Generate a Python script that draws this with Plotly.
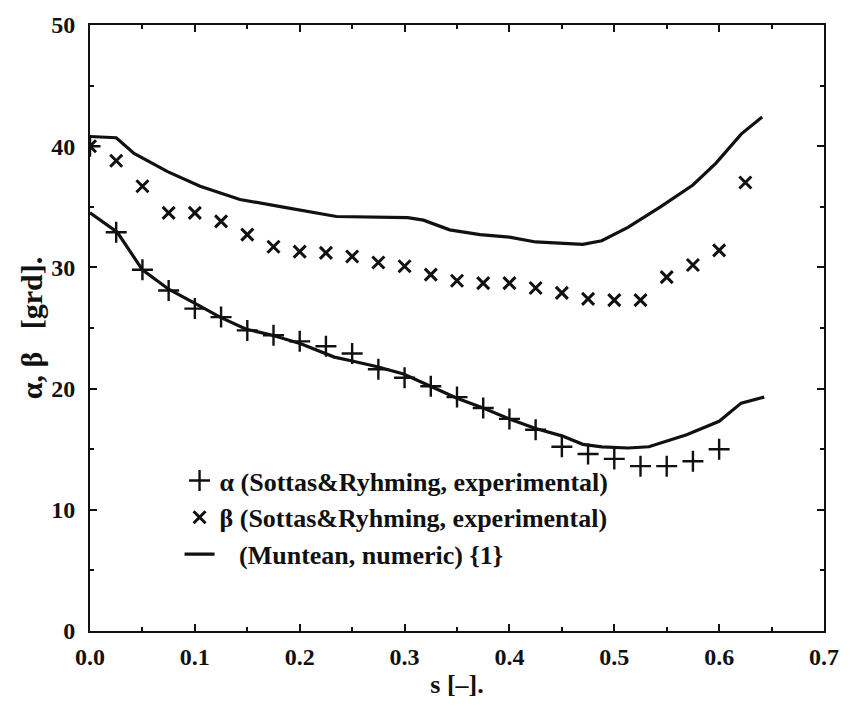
import plotly.graph_objects as go

# Measured flow angles along the blade passage (Sottas & Ryhming)
s_alpha = [0.0, 0.025, 0.05, 0.075, 0.1, 0.125, 0.15, 0.175, 0.2, 0.225, 0.25, 0.275,
           0.3, 0.325, 0.35, 0.375, 0.4, 0.425, 0.45, 0.475, 0.5, 0.525, 0.55, 0.575, 0.6]
alpha_exp = [40.0, 32.9, 29.8, 28.1, 26.6, 25.9, 24.8, 24.4, 23.9, 23.5, 22.9, 21.6,
             20.9, 20.2, 19.3, 18.4, 17.5, 16.6, 15.2, 14.6, 14.2, 13.6, 13.6, 14.0, 15.0]

s_beta = [0.0, 0.025, 0.05, 0.075, 0.1, 0.125, 0.15, 0.175, 0.2, 0.225, 0.25, 0.275, 0.3,
          0.325, 0.35, 0.375, 0.4, 0.425, 0.45, 0.475, 0.5, 0.525, 0.55, 0.575, 0.6, 0.625]
beta_exp = [40.0, 38.8, 36.7, 34.5, 34.5, 33.8, 32.7, 31.7, 31.3, 31.2, 30.9, 30.4, 30.1,
            29.4, 28.9, 28.7, 28.7, 28.3, 27.9, 27.4, 27.3, 27.3, 29.2, 30.2, 31.4, 37.0]

# Numerical solution (Muntean)
s_beta_num = [0.0, 0.025, 0.042, 0.074, 0.105, 0.143, 0.183, 0.235, 0.303, 0.318, 0.343,
              0.372, 0.400, 0.425, 0.470, 0.488, 0.513, 0.544, 0.575, 0.597, 0.621, 0.641]
beta_num = [40.8, 40.7, 39.4, 37.9, 36.7, 35.6, 35.0, 34.2, 34.1, 33.9, 33.1,
            32.7, 32.5, 32.1, 31.9, 32.2, 33.3, 35.0, 36.8, 38.6, 41.0, 42.4]

s_alpha_num = [0.0, 0.026, 0.050, 0.075, 0.105, 0.124, 0.149, 0.174, 0.201, 0.233, 0.249,
               0.274, 0.299, 0.325, 0.350, 0.375, 0.400, 0.425, 0.450, 0.470, 0.488,
               0.513, 0.533, 0.569, 0.600, 0.621, 0.643]
alpha_num = [34.5, 32.9, 29.8, 28.2, 26.8, 25.9, 24.9, 24.4, 23.7, 22.6, 22.3,
             21.8, 21.2, 20.2, 19.2, 18.4, 17.5, 16.7, 16.1, 15.4, 15.2,
             15.1, 15.2, 16.2, 17.3, 18.8, 19.3]

x_ticks = [0.0, 0.1, 0.2, 0.3, 0.4, 0.5, 0.6, 0.7]
x_ticklabels = ["0.0", "0.1", "0.2", "0.3", "0.4", "0.5", "0.6", "0.7"]
y_ticks = [0, 10, 20, 30, 40, 50]

FONT = "Liberation Serif"
INK = "#111111"

fig = go.Figure()

fig.add_trace(go.Scatter(
    x=s_alpha, y=alpha_exp, mode="markers",
    name="α (Sottas&Ryhming, experimental)", legendgroup="a",
    marker=dict(symbol="cross-thin", size=15, line=dict(width=2.4, color=INK), color=INK),
))
fig.add_trace(go.Scatter(
    x=s_beta, y=beta_exp, mode="markers",
    name="β (Sottas&Ryhming, experimental)", legendgroup="b",
    marker=dict(symbol="x-thin", size=12, line=dict(width=3, color=INK), color=INK),
))
fig.add_trace(go.Scatter(
    x=s_beta_num, y=beta_num, mode="lines",
    name="\u00a0\u00a0\u00a0(Muntean, numeric) {1}", legendgroup="c",
    line=dict(color=INK, width=3.2),
))
fig.add_trace(go.Scatter(
    x=s_alpha_num, y=alpha_num, mode="lines", showlegend=False, legendgroup="c",
    line=dict(color=INK, width=3.2),
))

axis_common = dict(
    showline=True, linecolor=INK, linewidth=2, mirror="allticks",
    ticks="inside", ticklen=7, tickwidth=2, tickcolor=INK,
    showgrid=False, zeroline=False,
    tickfont=dict(family=FONT, size=24, color=INK, weight="bold"),
)

fig.update_xaxes(
    range=[0, 0.7], tickvals=x_ticks, ticktext=x_ticklabels,
    minor=dict(dtick=0.05, ticks="inside", ticklen=4, tickwidth=1.5, tickcolor=INK),
    title=dict(text="s [–].", font=dict(family=FONT, size=26, color=INK, weight="bold"),
               standoff=6),
    ticklabelstandoff=3,
    **axis_common,
)
fig.update_yaxes(
    range=[0, 50], tickvals=y_ticks,
    minor=dict(dtick=5, ticks="inside", ticklen=4, tickwidth=1.5, tickcolor=INK),
    title=dict(text="\u00a0" * 7 + "α,\u00a0β\u00a0\u00a0\u00a0[grd].",
               font=dict(family=FONT, size=30, color=INK, weight="bold"),
               standoff=0),
    ticklabelstandoff=8,
    **axis_common,
)

fig.update_layout(
    width=851, height=706,
    margin=dict(l=90, r=17, t=22, b=71),
    paper_bgcolor="white", plot_bgcolor="white",
    showlegend=True,
    legend=dict(
        x=0.122, y=0.287, xanchor="left", yanchor="top",
        bgcolor="rgba(0,0,0,0)", traceorder="grouped", tracegroupgap=0,
        font=dict(family=FONT, size=26, color=INK, weight="bold"),
        itemwidth=30,
    ),
)

fig.write_html("out.html")
